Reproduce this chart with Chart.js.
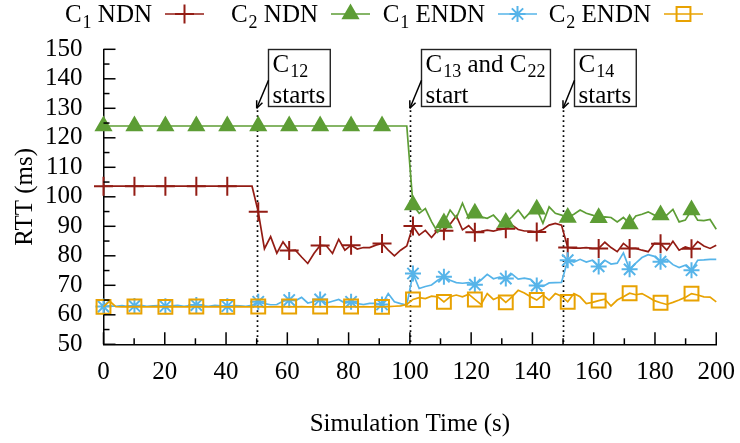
<!DOCTYPE html>
<html>
<head>
<meta charset="utf-8">
<script src="https://cdn.jsdelivr.net/npm/chart.js@4.4.1/dist/chart.umd.min.js"></script>
<style>
html,body{margin:0;padding:0;background:#fff}
</style>
</head>
<body>
<canvas id="rtt" width="740" height="443"></canvas>
<script>
// sample times (s), 100 samples over the 200 s run
const timeS = [
  0, 2.02, 4.04, 6.06, 8.08, 10.1, 12.12, 14.14, 16.16, 18.18,
  20.2, 22.22, 24.24, 26.26, 28.28, 30.3, 32.32, 34.34, 36.36, 38.38,
  40.4, 42.42, 44.44, 46.46, 48.48, 50.51, 52.53, 54.55, 56.57, 58.59,
  60.61, 62.63, 64.65, 66.67, 68.69, 70.71, 72.73, 74.75, 76.77, 78.79,
  80.81, 82.83, 84.85, 86.87, 88.89, 90.91, 92.93, 94.95, 96.97, 98.99,
  101.01, 103.03, 105.05, 107.07, 109.09, 111.11, 113.13, 115.15, 117.17, 119.19,
  121.21, 123.23, 125.25, 127.27, 129.29, 131.31, 133.33, 135.35, 137.37, 139.39,
  141.41, 143.43, 145.45, 147.47, 149.49, 151.52, 153.54, 155.56, 157.58, 159.6,
  161.62, 163.64, 165.66, 167.68, 169.7, 171.72, 173.74, 175.76, 177.78, 179.8,
  181.82, 183.84, 185.86, 187.88, 189.9, 191.92, 193.94, 195.96, 197.98, 200
];

// RTT (ms)
const c1Ndn = [
  103.6, 103.6, 103.6, 103.6, 103.6, 103.6, 103.6, 103.6, 103.6, 103.6,
  103.6, 103.6, 103.6, 103.6, 103.6, 103.6, 103.6, 103.6, 103.6, 103.6,
  103.6, 103.6, 103.6, 103.6, 103.6, 94.9, 82.4, 86.5, 80.9, 84.7,
  81.8, 81.9, 79.6, 77.4, 80.8, 83.5, 83.4, 80.8, 85.6, 81.9,
  83.6, 82.3, 82.8, 82.8, 83.6, 84.2, 81.9, 80.0, 81.9, 83.3,
  90.1, 87.0, 88.6, 86.2, 88.7, 88.5, 90.7, 93.5, 88.8, 90.2,
  88.0, 88.3, 88.7, 88.4, 88.9, 89.2, 90.4, 88.9, 88.4, 88.4,
  88.1, 88.9, 90.4, 91.0, 90.4, 82.8, 82.6, 82.6, 82.8, 82.5,
  82.5, 84.6, 82.8, 81.4, 84.2, 82.5, 82.5, 81.9, 81.4, 84.2,
  84.1, 81.9, 84.9, 81.9, 83.0, 82.4, 84.8, 83.3, 82.5, 83.6
];
const c2Ndn = [
  124.0, 124.0, 124.0, 124.0, 124.0, 124.0, 124.0, 124.0, 124.0, 124.0,
  124.0, 124.0, 124.0, 124.0, 124.0, 124.0, 124.0, 124.0, 124.0, 124.0,
  124.0, 124.0, 124.0, 124.0, 124.0, 124.0, 124.0, 124.0, 124.0, 124.0,
  124.0, 124.0, 124.0, 124.0, 124.0, 124.0, 124.0, 124.0, 124.0, 124.0,
  124.0, 124.0, 124.0, 124.0, 124.0, 124.0, 124.0, 124.0, 124.0, 124.0,
  97.2, 94.4, 96.0, 91.6, 88.0, 91.1, 95.5, 92.8, 97.8, 92.8,
  94.4, 93.2, 92.7, 93.8, 91.5, 91.3, 93.2, 95.5, 92.7, 94.9,
  95.8, 91.0, 96.6, 94.4, 93.8, 93.0, 94.1, 95.5, 94.4, 93.8,
  92.9, 93.2, 93.0, 91.5, 93.0, 90.8, 93.5, 94.1, 94.9, 93.8,
  93.8, 93.8, 95.7, 91.5, 92.1, 95.5, 92.1, 91.9, 92.3, 89.0
];
const c1Endn = [
  62.8, 63.0, 62.9, 63.1, 62.8, 63.0, 63.2, 62.9, 63.0, 63.1,
  62.9, 63.0, 63.2, 62.9, 63.1, 63.3, 63.0, 62.9, 63.2, 63.0,
  62.9, 63.1, 63.0, 62.9, 63.2, 64.4, 63.8, 63.4, 63.5, 64.6,
  65.0, 64.8, 65.9, 64.0, 64.5, 65.2, 64.0, 64.6, 65.2, 64.0,
  64.4, 63.8, 63.5, 63.9, 63.9, 63.5, 67.2, 64.4, 63.8, 63.3,
  74.0, 68.9, 69.6, 70.1, 71.7, 72.9, 71.7, 70.9, 70.7, 70.9,
  70.2, 71.8, 73.7, 72.2, 72.8, 72.3, 73.8, 72.1, 72.4, 72.0,
  69.9, 69.6, 70.8, 70.9, 71.0, 78.5, 77.9, 78.8, 77.9, 78.5,
  76.4, 78.5, 77.2, 77.5, 81.0, 75.4, 77.5, 79.4, 80.4, 79.8,
  78.0, 78.8, 77.0, 76.0, 76.8, 75.1, 78.5, 78.6, 78.8, 78.8
];
const c2Endn = [
  62.7, 64.6, 62.8, 62.7, 62.7, 62.8, 62.7, 62.7, 62.8, 62.7,
  62.7, 62.8, 62.7, 62.7, 62.7, 62.8, 62.7, 62.7, 62.8, 62.7,
  62.7, 62.7, 62.8, 62.7, 62.7, 62.8, 62.7, 62.7, 62.8, 62.7,
  62.8, 62.7, 62.8, 62.7, 62.7, 62.8, 62.7, 62.8, 62.7, 62.7,
  62.8, 62.7, 62.8, 62.7, 62.8, 62.7, 62.8, 62.9, 63.0, 63.5,
  65.2, 65.8, 65.5, 66.3, 66.1, 64.4, 66.1, 66.7, 66.1, 67.0,
  65.2, 63.5, 67.2, 65.2, 66.1, 64.2, 66.1, 68.3, 67.4, 66.1,
  65.0, 66.7, 65.0, 67.2, 66.3, 64.4, 67.2, 66.1, 63.8, 64.2,
  64.8, 65.3, 63.0, 65.0, 66.1, 67.3, 66.8, 67.2, 66.0, 64.8,
  64.1, 63.5, 64.2, 65.0, 65.9, 67.2, 66.7, 66.1, 66.0, 64.4
];

const seriesLabels = ['C_{1} NDN', 'C_{2} NDN', 'C_{1} ENDN', 'C_{2} ENDN'];
const yTicks = [50, 60, 70, 80, 90, 100, 110, 120, 130, 140, 150];
const xTicks = [0, 20, 40, 60, 80, 100, 120, 140, 160, 180, 200];

// times when new consumers join, with their notes
const eventTimes = [50, 100, 150];
const eventNotes = [
  ['C_{12}', 'starts'],
  ['C_{13} and C_{22}', 'start'],
  ['C_{14}', 'starts']
];

const FONT = '"Liberation Serif", "Times New Roman", serif';
const FS = 25;

// draws text where _{..} is a subscript, returns the width
function richText(ctx, str, x, y, size, draw) {
  const parts = str.split(/_\{([^}]*)\}/);
  let cx = x;
  parts.forEach((p, k) => {
    const sub = k % 2 === 1;
    ctx.font = (sub ? Math.round(size * 0.7) : size) + 'px ' + FONT;
    if (draw) ctx.fillText(p, cx + (sub ? 1 : 0), y + (sub ? size * 0.22 : 0));
    cx += ctx.measureText(p).width + (sub ? 1 : 0);
  });
  return cx - x;
}

function line(ctx, x1, y1, x2, y2) {
  ctx.beginPath();
  ctx.moveTo(x1, y1);
  ctx.lineTo(x2, y2);
  ctx.stroke();
}

function series(k, values, color, style, size, fill) {
  return {
    label: seriesLabels[k],
    data: values.map((v, i) => ({x: timeS[i], y: v})),
    borderColor: color,
    borderWidth: 1.7,
    tension: 0,
    fill: false,
    clip: false,
    order: 4 - k,
    pointStyle: style,
    markerSize: size,
    pointRadius: c => c.dataIndex % 5 === 0 ? size : 0,
    pointBorderColor: color,
    pointBackgroundColor: fill,
    pointBorderWidth: 2
  };
}

const decor = {
  id: 'decor',
  beforeDatasetsDraw(chart) {
    const {ctx, chartArea: a, scales: {x}} = chart;
    ctx.save();
    ctx.strokeStyle = '#000';
    ctx.lineWidth = 1.7;
    ctx.setLineDash([1.7, 3.3]);
    eventTimes.forEach(t => {
      const px = Math.round(x.getPixelForValue(t)) + 0.5;
      line(ctx, px, a.top + 61, px, a.bottom);
    });
    ctx.restore();
  },
  afterDraw(chart) {
    const {ctx, chartArea: a, scales: {x, y}} = chart;
    ctx.save();

    // inward tics, minor ones half length
    ctx.strokeStyle = '#000';
    ctx.lineWidth = 1.5;
    for (let v = 50; v <= 150; v += 5) {
      const py = y.getPixelForValue(v);
      line(ctx, a.left, py, a.left + (v % 10 === 0 ? 12 : 6), py);
    }
    for (let t = 0; t <= 200; t += 10) {
      const px = x.getPixelForValue(t);
      line(ctx, px, a.bottom, px, a.bottom - (t % 20 === 0 ? 12 : 6));
    }

    // note boxes with arrows down to the dotted markers
    ctx.textBaseline = 'alphabetic';
    eventTimes.forEach((t, k) => {
      const px = x.getPixelForValue(t);
      const lines = eventNotes[k];
      const w = Math.max(...lines.map(s => richText(ctx, s, 0, 0, FS, false))) + 9;
      const bx = Math.round(px + 11) + 0.5;
      const by = Math.round(a.top) + 0.5;
      ctx.fillStyle = '#fff';
      ctx.fillRect(bx, by, w, 57);
      ctx.strokeStyle = '#222';
      ctx.lineWidth = 1.4;
      ctx.strokeRect(bx, by, w, 57);
      ctx.fillStyle = '#000';
      richText(ctx, lines[0], bx + 4, by + 22, FS, true);
      richText(ctx, lines[1], bx + 4, by + 53, FS, true);

      const tipX = px, tipY = a.top + 59;
      const fromX = bx, fromY = a.top + 31;
      ctx.strokeStyle = '#000';
      ctx.lineWidth = 1.5;
      line(ctx, fromX, fromY, tipX, tipY);
      const ang = Math.atan2(tipY - fromY, tipX - fromX);
      [0.4, -0.4].forEach(d => {
        line(ctx, tipX, tipY, tipX - 8 * Math.cos(ang + d), tipY - 8 * Math.sin(ang + d));
      });
    });

    // key: text first, then the line sample with its marker
    const keyRight = [152, 318, 485, 651];
    chart.data.datasets.forEach((ds, k) => {
      const rx = keyRight[k];
      const w = richText(ctx, ds.label, 0, 0, FS, false);
      ctx.fillStyle = '#000';
      richText(ctx, ds.label, rx - w, 22, FS, true);
      ctx.strokeStyle = ds.borderColor;
      ctx.lineWidth = ds.borderWidth;
      line(ctx, rx + 13, 14, rx + 52, 14);
      ctx.fillStyle = ds.pointBackgroundColor;
      ctx.lineWidth = ds.pointBorderWidth;
      Chart.helpers.drawPoint(ctx, {
        pointStyle: ds.pointStyle, radius: ds.markerSize,
        rotation: 0, borderWidth: ds.pointBorderWidth
      }, rx + 32.5, 14);
    });
    ctx.restore();
  }
};

new Chart(document.getElementById('rtt'), {
  type: 'line',
  data: {
    datasets: [
      series(0, c1Ndn, '#931c14', 'cross', 9.5, '#931c14'),
      series(1, c2Ndn, '#5d9d35', 'triangle', 8.5, '#5d9d35'),
      series(2, c1Endn, '#56b4e9', 'star', 8, '#56b4e9'),
      series(3, c2Endn, '#e8a202', 'rect', 9.8, 'rgba(0,0,0,0)')
    ]
  },
  options: {
    responsive: false,
    animation: false,
    devicePixelRatio: 1,
    events: [],
    layout: {padding: {left: 0, right: 23.3, top: 49.3, bottom: 0}},
    plugins: {legend: {display: false}, tooltip: {enabled: false}},
    scales: {
      x: {
        type: 'linear',
        min: 0, max: 200,
        afterBuildTicks: s => { s.ticks = xTicks.map(v => ({value: v})); },
        afterFit: s => { s.height = 98.7; },
        grid: {display: false},
        border: {display: true, color: '#000', width: 1.5},
        ticks: {color: '#000', padding: 5, maxRotation: 0, autoSkip: false,
                font: {family: FONT, size: FS}},
        title: {display: true, text: 'Simulation Time (s)', color: '#000', padding: 4,
                font: {family: FONT, size: FS}}
      },
      y: {
        min: 50, max: 150,
        afterBuildTicks: s => { s.ticks = yTicks.map(v => ({value: v})); },
        afterFit: s => { s.width = 103.5; },
        grid: {display: false},
        border: {display: true, color: '#000', width: 1.5},
        ticks: {color: '#000', padding: 13, autoSkip: false, font: {family: FONT, size: FS}},
        title: {display: true, text: 'RTT (ms)', color: '#000', padding: 10,
                font: {family: FONT, size: FS}}
      }
    }
  },
  plugins: [decor]
});
</script>
</body>
</html>
